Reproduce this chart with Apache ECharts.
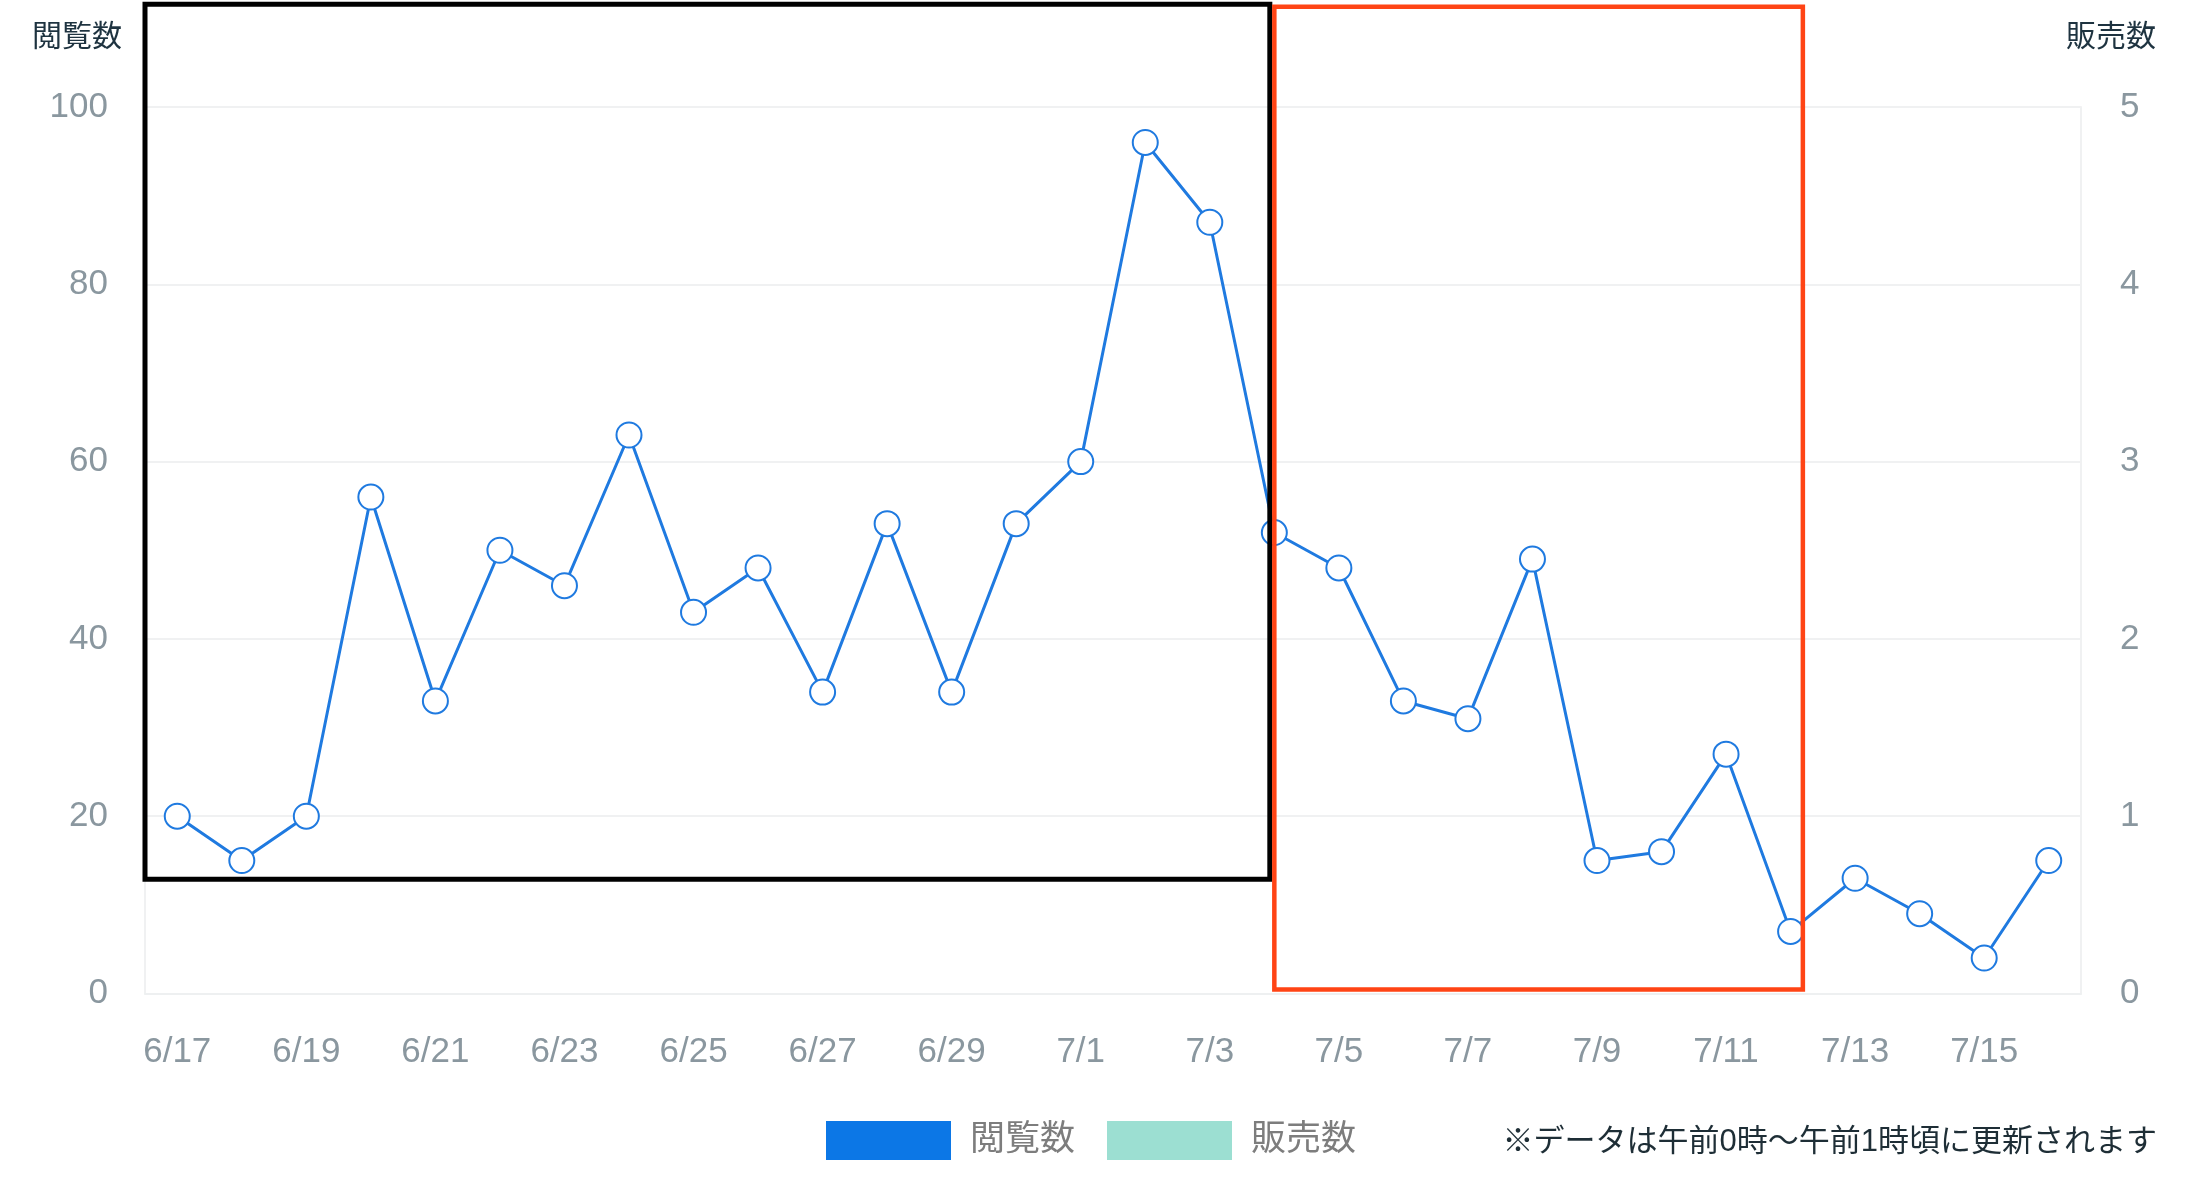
<!DOCTYPE html>
<html>
<head>
<meta charset="utf-8">
<script src="https://cdn.jsdelivr.net/npm/echarts@6/dist/echarts.min.js"></script>
<style>
html,body{margin:0;padding:0;background:#ffffff;}
#c{width:2194px;height:1192px;}
</style>
</head>
<body>
<div id="c"></div>
<script>
const categories = ['6/17','6/18','6/19','6/20','6/21','6/22','6/23','6/24','6/25','6/26','6/27','6/28','6/29','6/30',
  '7/1','7/2','7/3','7/4','7/5','7/6','7/7','7/8','7/9','7/10','7/11','7/12','7/13','7/14','7/15','7/16'];
const views = [20,15,20,56,33,50,46,63,43,48,34,53,34,53,60,96,87,52,48,33,31,49,15,16,27,7,13,9,4,15];
const sales = [0,0,0,0,0,0,0,0,0,0,0,0,0,0,0,0,0,0,0,0,0,0,0,0,0,0,0,0,0,0];
const viewsAxis = {min: 0, max: 100, interval: 20};
const salesAxis = {min: 0, max: 5, interval: 1};
const seriesNames = ['閲覧数', '販売数'];
const noteText = '※データは午前0時〜午前1時頃に更新されます';

const FONT = '"Liberation Sans", "Noto Sans CJK JP", sans-serif';
const LABEL = '#8a979f';
const chart = echarts.init(document.getElementById('c'));

chart.setOption({
  animation: false,
  backgroundColor: '#ffffff',
  textStyle: {fontFamily: FONT},
  title: {
    text: noteText,
    right: 32,
    top: 1122,
    textStyle: {fontSize: 31, fontWeight: 'normal', color: '#1e2e36', fontFamily: FONT}
  },
  legend: {
    left: 821,
    top: 1116,
    itemWidth: 125,
    itemHeight: 39,
    itemGap: 32,
    textStyle: {fontSize: 35, color: '#7d7d7d', fontFamily: FONT, padding: [0, 0, 0, 14]},
    data: [
      {name: seriesNames[0], icon: 'rect', itemStyle: {color: '#0c77e6', borderWidth: 0}},
      {name: seriesNames[1], icon: 'rect', itemStyle: {color: '#9cdfd2', borderWidth: 0}}
    ]
  },
  grid: {left: 145, right: 113, top: 107, bottom: 198.5, containLabel: false},
  xAxis: {
    type: 'category',
    data: categories,
    boundaryGap: true,
    axisLine: {show: true, lineStyle: {color: '#eef0f1', width: 2}},
    axisTick: {show: false},
    axisLabel: {interval: 1, color: LABEL, fontSize: 35, margin: 41, fontFamily: FONT},
    splitLine: {show: false}
  },
  yAxis: [
    {
      type: 'value',
      name: seriesNames[0],
      nameLocation: 'end',
      nameGap: 69,
      nameTextStyle: {fontSize: 30, color: '#1e3340', align: 'right', verticalAlign: 'middle', padding: [0, 23, 0, 0], fontFamily: FONT},
      min: viewsAxis.min, max: viewsAxis.max, interval: viewsAxis.interval,
      axisLine: {show: true, lineStyle: {color: '#f0f1f2', width: 2}},
      axisTick: {show: false},
      axisLabel: {color: LABEL, fontSize: 35, margin: 37, fontFamily: FONT},
      splitLine: {show: true, lineStyle: {color: '#f0f1f2', width: 2}}
    },
    {
      type: 'value',
      name: seriesNames[1],
      nameLocation: 'end',
      nameGap: 69,
      nameTextStyle: {fontSize: 30, color: '#1e3340', align: 'center', verticalAlign: 'middle', padding: [0, 0, 0, 60], fontFamily: FONT},
      min: salesAxis.min, max: salesAxis.max, interval: salesAxis.interval,
      position: 'right',
      axisLine: {show: true, lineStyle: {color: '#f0f1f2', width: 2}},
      axisTick: {show: false},
      axisLabel: {color: LABEL, fontSize: 35, margin: 39, fontFamily: FONT},
      splitLine: {show: false}
    }
  ],
  series: [
    {
      name: seriesNames[0],
      type: 'line',
      yAxisIndex: 0,
      data: views,
      symbol: 'emptyCircle',
      symbolSize: 25,
      color: '#1f7ae0',
      lineStyle: {color: '#1f7ae0', width: 3},
      itemStyle: {color: '#1f7ae0', borderColor: '#1f7ae0', borderWidth: 3},
      z: 3
    },
    {
      name: seriesNames[1],
      type: 'bar',
      yAxisIndex: 1,
      data: sales,
      color: '#9cdfd2',
      itemStyle: {color: '#9cdfd2'}
    }
  ]
});

// Annotation boxes defined in data space (category index, 閲覧数 value)
const boxes = [
  {x0: -0.5, x1: 16.93, y0: 12.9, y1: 111.6, color: '#000000', width: 5},
  {x0: 17.0, x1: 25.19, y0: 0.45, y1: 111.3, color: '#ff4415', width: 4.5}
];
const p0 = chart.convertToPixel({xAxisIndex: 0, yAxisIndex: 0}, [0, 0]);
const p1 = chart.convertToPixel({xAxisIndex: 0, yAxisIndex: 0}, [1, 100]);
const step = p1[0] - p0[0];
const yPerUnit = (p1[1] - p0[1]) / 100;
const px = i => p0[0] + i * step;
const py = v => p0[1] + v * yPerUnit;
chart.setOption({
  graphic: boxes.map(b => ({
    type: 'rect',
    z: 100,
    silent: true,
    shape: {x: px(b.x0), y: py(b.y1), width: px(b.x1) - px(b.x0), height: py(b.y0) - py(b.y1)},
    style: {fill: 'none', stroke: b.color, lineWidth: b.width}
  }))
});
</script>
</body>
</html>
